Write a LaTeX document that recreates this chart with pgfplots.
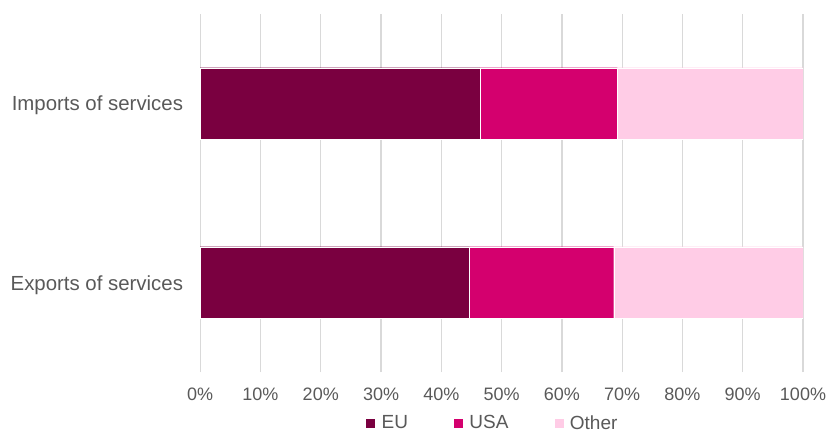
\documentclass[border=0pt]{standalone}
\usepackage{pgfplots}
\pgfplotsset{compat=1.18}
\usepackage{fontspec}
\setmainfont{Liberation Sans}
\definecolor{txt}{HTML}{595959}
\definecolor{gridc}{HTML}{D9D9D9}
\definecolor{cEU}{HTML}{7A0040}
\definecolor{cUSA}{HTML}{D4006E}
\definecolor{cOther}{HTML}{FFCCE6}
\begin{document}
\begin{tikzpicture}
\begin{axis}[
  name=ax,
  scale only axis,
  width=602.8bp, height=358bp,
  xbar stacked,
  bar width=71.5bp,
  xmin=0, xmax=100,
  ymin=-0.5, ymax=1.5,
  xtick={0,10,...,100},
  xticklabel={\pgfmathprintnumber{\tick}\%},
  ytick={0,1},
  yticklabels={Exports of services, Imports of services},
  axis line style={draw=none},
  major tick length=0pt,
  xmajorgrids,
  grid style={color=gridc, line width=1.3bp},
  /pgf/number format/assume math mode=true,
  xticklabel style={font=\fontsize{18bp}{20bp}\selectfont, text=txt, anchor=base, inner sep=0pt, yshift=-28bp},
  yticklabel style={font=\fontsize{20.4bp}{24bp}\selectfont, text=txt, anchor=base east, inner sep=0pt, xshift=-17bp, yshift=-7.5bp},
  legend columns=3,
  legend style={draw=none, anchor=center, font=\fontsize{19bp}{22bp}\selectfont, text=txt,
    at={(rel axis cs:0.483,0)}, yshift=-51bp,
    nodes={inner sep=0pt},
    /tikz/every odd column/.append style={column sep=6bp},
    /tikz/every even column/.append style={column sep=45bp}},
  legend image code/.code={\fill[#1] (0bp,-5bp) rectangle (10bp,5bp);},
]
\addplot[fill=cEU, draw=white, line width=0.4bp] coordinates {(44.7,0) (46.4,1)};
\addplot[fill=cUSA, draw=white, line width=0.4bp] coordinates {(23.9,0) (22.8,1)};
\addplot[fill=cOther, draw=white, line width=0.4bp] coordinates {(31.4,0) (30.8,1)};
\legend{EU, USA, Other}
\end{axis}
\pgfresetboundingbox
\path[use as bounding box] (ax.south west) ++(-200.2bp,-61bp) rectangle ++(829bp,433bp);
\end{tikzpicture}
\end{document}
